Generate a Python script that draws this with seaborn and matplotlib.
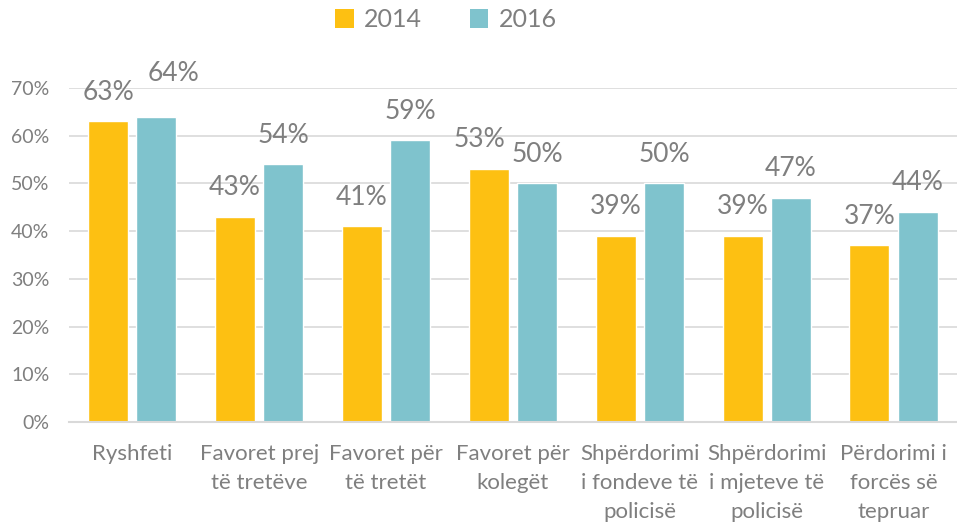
import matplotlib
matplotlib.use("Agg")
import matplotlib.pyplot as plt
import seaborn as sns
import pandas as pd
from matplotlib.patches import Patch

categories = ["Ryshfeti", "Favoret prej\ntë tretëve", "Favoret për\ntë tretët",
              "Favoret për\nkolegët", "Shpërdorimi\ni fondeve të\npolicisë",
              "Shpërdorimi\ni mjeteve të\npolicisë", "Përdorimi i\nforcës së\ntepruar"]
years = ["2014", "2016"]
values_2014 = [63, 43, 41, 53, 39, 39, 37]
values_2016 = [64, 54, 59, 50, 50, 47, 44]
yticks = [0, 10, 20, 30, 40, 50, 60, 70]

df = pd.DataFrame({
    "cat": categories * 2,
    "year": [years[0]] * len(categories) + [years[1]] * len(categories),
    "val": values_2014 + values_2016,
})

sns.set_theme(style="white")
plt.rcParams["font.family"] = ["Lato", "DejaVu Sans"]

c14 = "#FDC012"
c16 = "#7FC3CD"
txt = "#7F7F7F"
grid = "#D9D9D9"

fig = plt.figure(figsize=(9.57, 5.23), dpi=100)
ax = fig.add_axes([0.072, 0.193, 0.928, 0.639])

sns.barplot(data=df, x="cat", y="val", hue="year", palette=[c14, c16],
            width=0.76, gap=0.17, ax=ax, legend=False, saturation=1)

# label nudges (in points) to avoid overlapping labels, like the original
# key: (container index [0=2014, 1=2016], bar index)
nudges = {(1, 0): (12, 10), (0, 3): (-7, 0)}
for ci, cont in enumerate(ax.containers):
    for bi, bar in enumerate(cont):
        h = bar.get_height()
        dx, dy = nudges.get((ci, bi), (0, 0))
        ax.annotate(f"{h:.0f}%", (bar.get_x() + bar.get_width() / 2, h),
                    xytext=(dx, 12 + dy), textcoords="offset points",
                    ha="center", va="bottom", fontsize=19, color=txt)

ax.set_ylim(0, 70)
ax.set_xlim(-0.5, 6.5)
ax.set_yticks(yticks)
ax.set_yticklabels([f"{t}%" for t in yticks])
ax.set_xticks(range(len(categories)))
ax.set_xticklabels(categories, linespacing=1.55, va="top")
ax.yaxis.grid(True, color=grid, linewidth=1.2)
ax.set_axisbelow(True)
ax.set_xlabel("")
ax.set_ylabel("")
for s in ["left", "right", "top"]:
    ax.spines[s].set_visible(False)
ax.spines["bottom"].set_color(grid)
ax.spines["bottom"].set_linewidth(1.5)
ax.tick_params(axis="both", length=0, colors=txt)
ax.tick_params(axis="y", labelsize=14, pad=14)
ax.tick_params(axis="x", labelsize=16, pad=16)

handles = [Patch(facecolor=c14, edgecolor="none"), Patch(facecolor=c16, edgecolor="none")]
leg = fig.legend(handles, years, loc="center", bbox_to_anchor=(0.466, 0.962),
                 ncol=2, frameon=False, fontsize=18, handlelength=0.75,
                 handleheight=0.75, handletextpad=0.4, columnspacing=1.9)
for t in leg.get_texts():
    t.set_color(txt)

fig.canvas.draw()
for lab in ax.get_xticklabels():
    lab.set_linespacing(1.55)
fig.savefig("out.png", dpi=100)
